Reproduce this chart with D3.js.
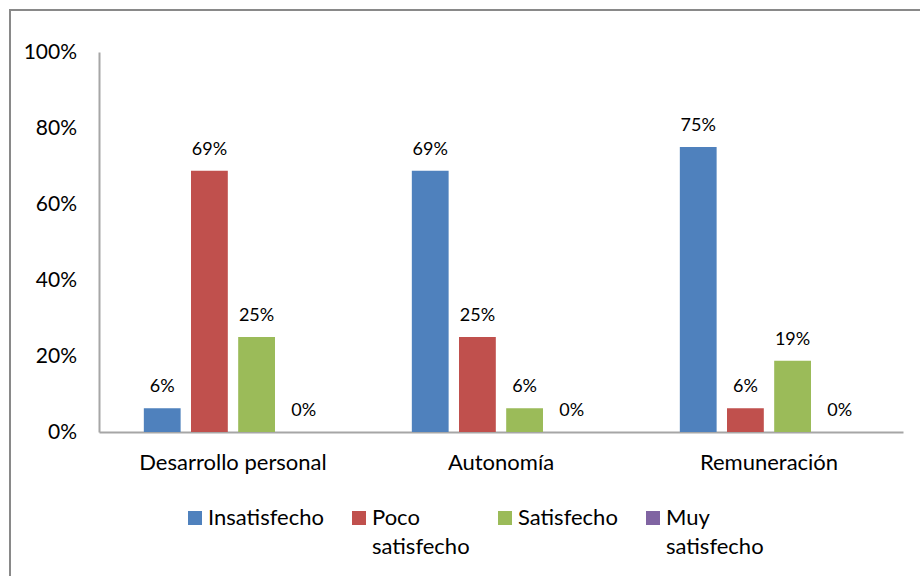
<!DOCTYPE html>
<html>
<head>
  <meta charset="utf-8">
  <script src="https://d3js.org/d3.v7.min.js"></script>
  <style>
    body { margin: 0; background: #fff; }
    svg { font-family: Lato, "Open Sans", sans-serif; }
  </style>
</head>
<body>
  <svg id="chart" width="920" height="576"></svg>
  <script>
    const categories = ["Desarrollo personal", "Autonomía", "Remuneración"];
    const seriesNames = ["Insatisfecho", "Poco satisfecho", "Satisfecho", "Muy satisfecho"];
    const insatisfecho = [0.0625, 0.6875, 0.75];
    const pocoSatisfecho = [0.6875, 0.25, 0.0625];
    const satisfecho = [0.25, 0.0625, 0.1875];
    const muySatisfecho = [0, 0, 0];
    const yTicks = [0, 0.2, 0.4, 0.6, 0.8, 1.0];
    const colors = ["#4F81BD", "#C0504D", "#9BBB59", "#8064A2"];

    const series = [insatisfecho, pocoSatisfecho, satisfecho, muySatisfecho];
    const svg = d3.select("#chart");

    // outer frame
    svg.append("rect")
      .attr("x", 10).attr("y", 10)
      .attr("width", 930).attr("height", 600)
      .attr("fill", "none")
      .attr("stroke", "#898989")
      .attr("stroke-width", 2);

    const x0 = d3.scaleBand().domain(categories).range([99, 903]).paddingInner(0).paddingOuter(0);
    const x1 = d3.scaleBand().domain(seriesNames).range([0, x0.bandwidth()])
      .paddingInner(0.22).paddingOuter(0.95);
    const y = d3.scaleLinear().domain([0, 1]).range([432, 52]);

    // y axis
    const yAxis = svg.append("g")
      .attr("transform", "translate(99,0)")
      .call(d3.axisLeft(y).tickValues(yTicks).tickFormat(d3.format(".0%")).tickSize(0).tickPadding(22));
    yAxis.select(".domain").attr("stroke", "#a6a6a6").attr("stroke-width", 2);
    yAxis.selectAll("text").attr("font-size", 21).attr("fill", "#000")
      .attr("font-family", "Lato, sans-serif");

    // x axis
    const xAxis = svg.append("g")
      .attr("transform", "translate(0,432)")
      .call(d3.axisBottom(x0).tickSize(0).tickPadding(22));
    xAxis.select(".domain").attr("stroke", "#a6a6a6").attr("stroke-width", 2);
    xAxis.selectAll("text").attr("font-size", 22).attr("fill", "#000")
      .attr("font-family", "Lato, sans-serif");

    // bars
    const groups = svg.selectAll("g.cat")
      .data(categories)
      .join("g")
      .attr("class", "cat")
      .attr("transform", d => `translate(${x0(d)},0)`);

    groups.each(function (cat, ci) {
      const g = d3.select(this);
      seriesNames.forEach((s, si) => {
        const v = series[si][ci];
        g.append("rect")
          .attr("x", x1(s))
          .attr("y", y(v))
          .attr("width", x1.bandwidth())
          .attr("height", y(0) - y(v))
          .attr("fill", colors[si]);
        g.append("text")
          .attr("x", x1(s) + x1.bandwidth() / 2)
          .attr("y", y(v) - 16)
          .attr("text-anchor", "middle")
          .attr("font-size", 18)
          .text(d3.format(".0%")(v));
      });
    });

    // legend
    const legendItems = [
      { x: 188, lines: ["Insatisfecho"] },
      { x: 352, lines: ["Poco", "satisfecho"] },
      { x: 498, lines: ["Satisfecho"] },
      { x: 646, lines: ["Muy", "satisfecho"] }
    ];
    const legend = svg.append("g");
    legendItems.forEach((item, i) => {
      legend.append("rect")
        .attr("x", item.x).attr("y", 511)
        .attr("width", 14).attr("height", 14)
        .attr("fill", colors[i]);
      const t = legend.append("text")
        .attr("x", item.x + 20).attr("y", 525)
        .attr("font-size", 22);
      item.lines.forEach((ln, li) => {
        t.append("tspan").attr("x", item.x + 20).attr("dy", li === 0 ? 0 : 29).text(ln);
      });
    });
  </script>
</body>
</html>
